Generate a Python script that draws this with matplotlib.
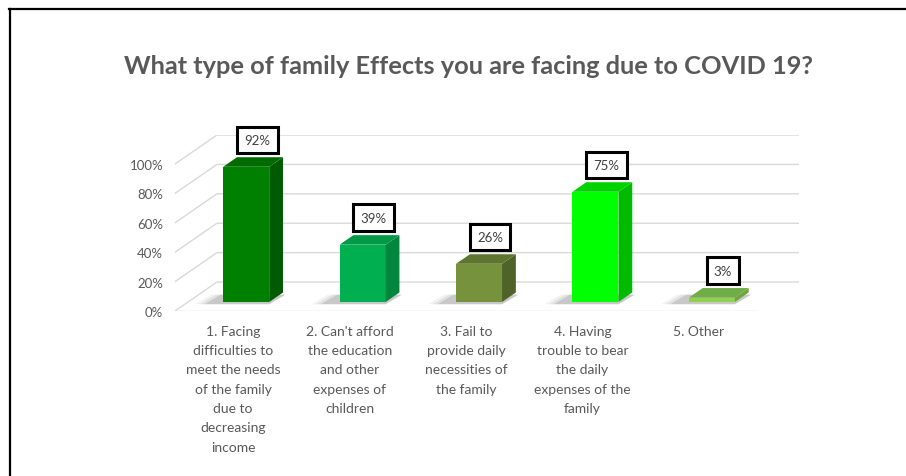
import numpy as np
import matplotlib
matplotlib.use('Agg')
import matplotlib.pyplot as plt
from matplotlib.patches import Polygon
from matplotlib.lines import Line2D

# data
categories = ['1. Facing\ndifficulties to\nmeet the needs\nof the family\ndue to\ndecreasing\nincome',
              "2. Can't afford\nthe education\nand other\nexpenses of\nchildren",
              '3. Fail to\nprovide daily\nnecessities of\nthe family',
              '4. Having\ntrouble to bear\nthe daily\nexpenses of the\nfamily',
              '5. Other']
values = [92, 39, 26, 75, 3]
yticks = [0, 20, 40, 60, 80, 100]
title = 'What type of family Effects you are facing due to COVID 19?'

# colours (front, side, top)
front_cols = ['#008000', '#00B050', '#76923C', '#00FF00', '#92D050']
side_cols = ['#005A00', '#00873D', '#4F6228', '#00BB00', '#6FA53A']
top_cols = ['#006B00', '#009A46', '#5E7530', '#00D200', '#70AD47']

plt.rcParams['font.family'] = ['Lato', 'DejaVu Sans']
grey = '#595959'

fig = plt.figure(figsize=(9.06, 4.77), dpi=100)
ax = fig.add_axes([175 / 906, (477 - 312) / 477, 624 / 906, 176.4 / 477])

DX, DY = 0.36, 19.7      # full floor depth in data units
d0, d1 = 0.31, 0.64      # bar front / back depth
w = 0.395
x = np.arange(len(values))
xl, xr = -0.5, len(values) - 0.5

# back wall + side wall grid
for v in yticks:
    ax.plot([xl, xl + DX, xr + DX], [v, v + DY, v + DY], color='#D9D9D9', lw=1, zorder=1)
ax.plot([xl, xr], [0, 0], color='#D9D9D9', lw=1, zorder=1)

for i, v in enumerate(values):
    fx0 = x[i] - w / 2 + d0 * DX
    fx1 = x[i] + w / 2 + d0 * DX
    bx1 = x[i] + w / 2 + d1 * DX
    bx0 = x[i] - w / 2 + d1 * DX
    y0 = d0 * DY
    y1 = d1 * DY
    # soft floor shadow
    for k, a in enumerate([0.10, 0.15, 0.25]):
        s = 0.04 * (3 - k)
        sh = Polygon([(fx0 - 0.12 - s, y0 - 1.5), (fx1, y0 - 1.5),
                      (bx1 + 0.02, y1 - 1.5), (bx0 - 0.1 - s, y1 - 1.5)],
                     closed=True, fc='#808080', ec='none', alpha=a, zorder=2)
        ax.add_patch(sh)
    ax.add_patch(Polygon([(fx0, y0), (fx1, y0), (fx1, v + y0), (fx0, v + y0)],
                         fc=front_cols[i], ec='none', zorder=3))
    ax.add_patch(Polygon([(fx1, y0), (bx1, y1), (bx1, v + y1), (fx1, v + y0)],
                         fc=side_cols[i], ec='none', zorder=3))
    ax.add_patch(Polygon([(fx0, v + y0), (fx1, v + y0), (bx1, v + y1), (bx0, v + y1)],
                         fc=top_cols[i], ec='none', zorder=3))
    ax.annotate(f'{v}%', xy=(x[i] + (d0 + d1) / 2 * DX, v + (d0 + d1) / 2 * DY),
                xytext=(3, 16), textcoords='offset points', ha='center', va='center',
                fontsize=9.5, color='#404040', zorder=5,
                bbox=dict(boxstyle='square,pad=0.55', fc='white', ec='black', lw=2.2))

ax.set_xlim(xl, xr + DX)
ax.set_ylim(0, 120)
ax.set_yticks(yticks)
ax.set_yticklabels([f'{t}%' for t in yticks], color=grey, fontsize=9.5)
ax.set_xticks(x)
ax.set_xticklabels(categories, color=grey, fontsize=10, linespacing=1.73, va='top')
ax.tick_params(length=0)
ax.tick_params(axis='y', pad=8.5)
ax.tick_params(axis='x', pad=10)
for sp in ax.spines.values():
    sp.set_visible(False)
ax.patch.set_visible(False)

fig.text(468 / 906, 1 - 66 / 477, title, ha='center', va='center',
         fontsize=18.3, fontweight='bold', color=grey)

# frame lines top and left
fig.add_artist(Line2D([9 / 906, 1], [1 - 10 / 477, 1 - 10 / 477], color='black', lw=1.6,
                      transform=fig.transFigure))
fig.add_artist(Line2D([9.5 / 906, 9.5 / 906], [0, 1 - 10 / 477], color='black', lw=1.6,
                      transform=fig.transFigure))

fig.savefig('out.png', dpi=100)
